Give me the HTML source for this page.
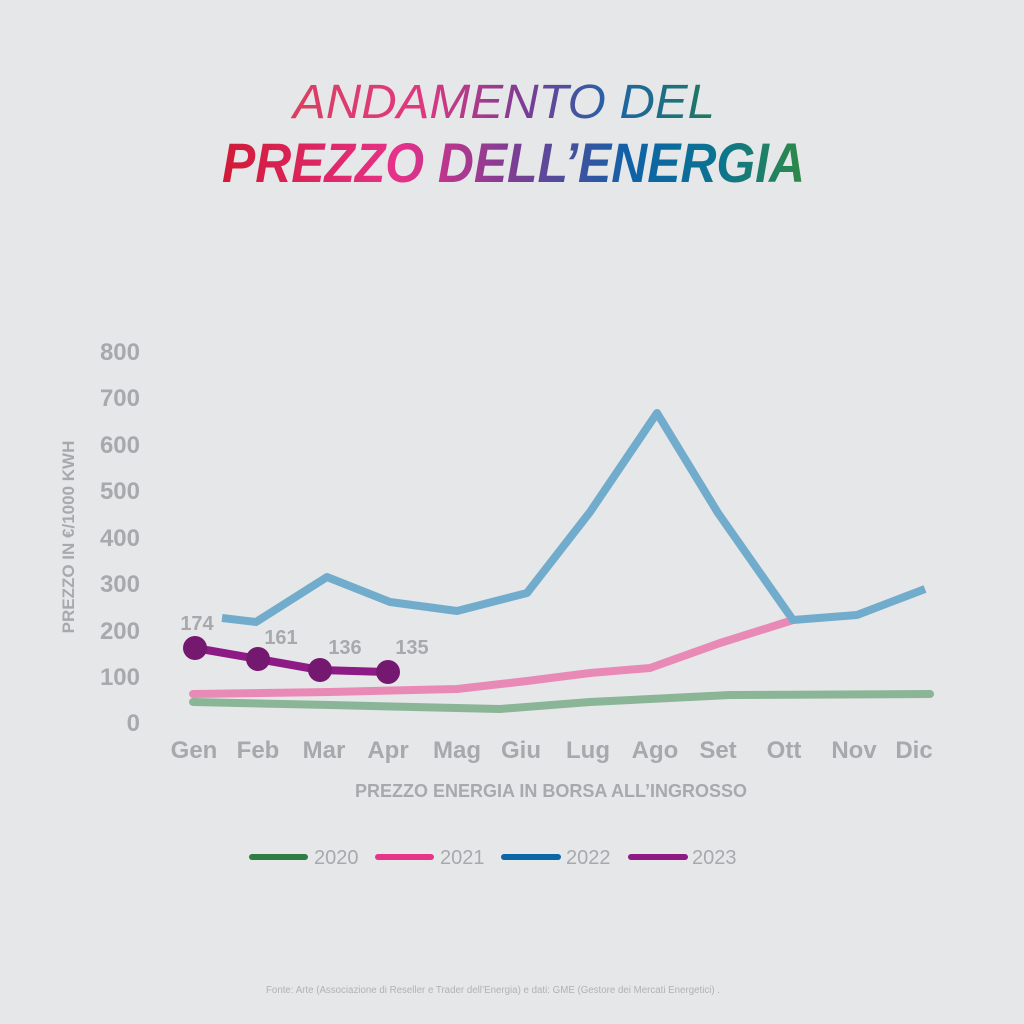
<!DOCTYPE html>
<html><head><meta charset="utf-8"><style>
html,body{margin:0;padding:0;background:#e6e7e8;}
svg{display:block;}
</style></head><body>
<svg width="1024" height="1024" viewBox="0 0 1024 1024" xmlns="http://www.w3.org/2000/svg" font-family="Liberation Sans, sans-serif">
<defs>
<linearGradient id="g1" x1="290" x2="720" y1="0" y2="0" gradientUnits="userSpaceOnUse">
<stop offset="0" stop-color="#d9405f"/><stop offset="0.3" stop-color="#e0387f"/><stop offset="0.55" stop-color="#7a3d94"/><stop offset="0.75" stop-color="#1f64a8"/><stop offset="1" stop-color="#1f7a5a"/>
</linearGradient>
<linearGradient id="g2" x1="222" x2="805" y1="0" y2="0" gradientUnits="userSpaceOnUse">
<stop offset="0" stop-color="#d01a35"/><stop offset="0.3" stop-color="#e8318a"/><stop offset="0.5" stop-color="#7c3e94"/><stop offset="0.7" stop-color="#0e62a8"/><stop offset="0.85" stop-color="#0b7490"/><stop offset="1" stop-color="#2e8a45"/>
</linearGradient>
</defs>
<rect width="1024" height="1024" fill="#e6e7e8"/>
<text x="293" y="118" font-size="48" font-style="italic" font-weight="300" fill="url(#g1)" textLength="422" lengthAdjust="spacingAndGlyphs">ANDAMENTO DEL</text>
<text x="222" y="182" font-size="56" font-style="italic" font-weight="bold" fill="url(#g2)" textLength="583" lengthAdjust="spacingAndGlyphs">PREZZO DELL’ENERGIA</text>

<g font-size="24" font-weight="bold" fill="#a7a9ac" text-anchor="end">
<text x="140" y="360">800</text><text x="140" y="406">700</text><text x="140" y="453">600</text><text x="140" y="499">500</text><text x="140" y="546">400</text><text x="140" y="592">300</text><text x="140" y="639">200</text><text x="140" y="685">100</text><text x="140" y="731">0</text>
</g>
<text transform="translate(74,537) rotate(-90)" font-size="17" font-weight="bold" fill="#a7a9ac" text-anchor="middle">PREZZO IN €/1000 KWH</text>

<g font-size="24" font-weight="bold" fill="#a7a9ac" text-anchor="middle">
<text x="194" y="758">Gen</text><text x="258" y="758">Feb</text><text x="324" y="758">Mar</text><text x="388" y="758">Apr</text><text x="457" y="758">Mag</text><text x="521" y="758">Giu</text><text x="588" y="758">Lug</text><text x="655" y="758">Ago</text><text x="718" y="758">Set</text><text x="784" y="758">Ott</text><text x="854" y="758">Nov</text><text x="914" y="758">Dic</text>
</g>
<text x="551" y="797" font-size="18" font-weight="bold" fill="#a7a9ac" text-anchor="middle">PREZZO ENERGIA IN BORSA ALL’INGROSSO</text>

<g fill="none" stroke-width="8" stroke-linejoin="round" stroke-linecap="round">
<polyline stroke="#8ab596" points="193,702 330,705 500,709 590,702 730,695 930,694"/>
<polyline stroke="#e98ab6" points="193,694 330,692 457,689 527,681 590,673 650,668 720,643 793,620"/>
<polyline stroke="#72accd" stroke-linecap="butt" points="222,618 256,622 327,577 390,602 457,611 527,593 590,512 657,413 718,513 793,620 857,615 925,589"/>
<polyline stroke="#8e1a85" points="195,648 258,659 320,670 388,672"/>
</g>
<g fill="#741870">
<circle cx="195" cy="648" r="12"/><circle cx="258" cy="659" r="12"/><circle cx="320" cy="670" r="12"/><circle cx="388" cy="672" r="12"/>
</g>
<g font-size="20" font-weight="bold" fill="#a7a9ac" text-anchor="middle">
<text x="197" y="630">174</text><text x="281" y="644">161</text><text x="345" y="654">136</text><text x="412" y="654">135</text>
</g>

<g stroke-width="6" stroke-linecap="round">
<line x1="252" y1="857" x2="305" y2="857" stroke="#2e7d45"/>
<line x1="378" y1="857" x2="431" y2="857" stroke="#e7338a"/>
<line x1="504" y1="857" x2="558" y2="857" stroke="#0d66a6"/>
<line x1="631" y1="857" x2="685" y2="857" stroke="#8f1a84"/>
</g>
<g font-size="20" fill="#a7a9ac">
<text x="314" y="864">2020</text><text x="440" y="864">2021</text><text x="566" y="864">2022</text><text x="692" y="864">2023</text>
</g>
<text x="493" y="993" font-size="10" fill="#b0b2b5" text-anchor="middle" textLength="454" lengthAdjust="spacingAndGlyphs">Fonte: Arte (Associazione di Reseller e Trader dell’Energia) e dati: GME (Gestore dei Mercati Energetici) .</text>
</svg>
</body></html>
